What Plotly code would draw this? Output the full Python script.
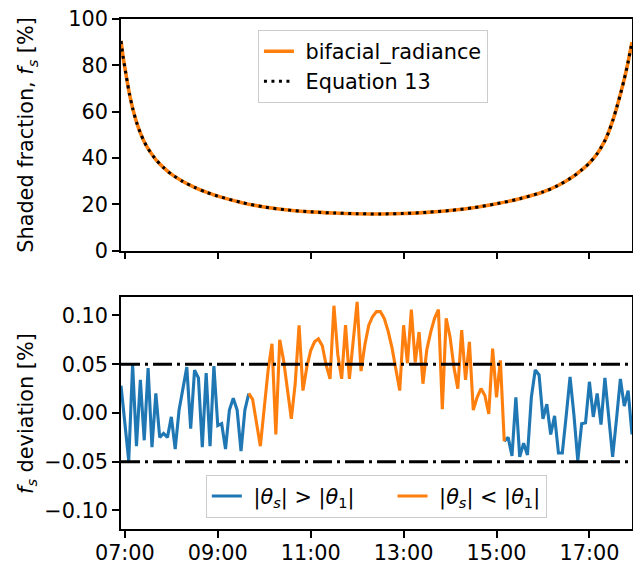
import pandas as pd
import plotly.graph_objects as go

DAY = "2019-06-21 "

# ---- top panel: shaded fraction (%) ----
FS_TIMES = ["06:55", "06:58", "07:00", "07:03", "07:06", "07:10", "07:15", "07:20",
            "07:25", "07:30", "07:40", "07:50", "08:00", "08:15", "08:30", "08:45",
            "09:00", "09:30", "10:00", "10:30", "11:00", "11:30", "12:00", "12:30",
            "13:00", "13:30", "14:00", "14:30", "15:00", "15:30", "16:00", "16:20",
            "16:40", "16:50", "17:00", "17:10", "17:20", "17:25", "17:30", "17:35",
            "17:40", "17:45", "17:50", "17:55"]
FS_BIFACIAL = [90.5, 83, 79, 73, 67.5, 61.5, 55.5, 50.8,
               47, 44, 39.3, 35.8, 33, 29.8, 27.3, 25.2,
               23.5, 20.8, 18.8, 17.5, 16.7, 16.2, 15.9, 15.8,
               16.0, 16.5, 17.3, 18.5, 20.2, 22.4, 25.3, 28.2,
               32.2, 34.8, 37.8, 41.8, 47.5, 51.3, 56, 61.5,
               67.5, 74, 81.5, 90]
FS_EQ13 = [90.5, 83, 79, 73, 67.5, 61.5, 55.5, 50.8,
           47, 44, 39.3, 35.8, 33, 29.8, 27.3, 25.2,
           23.5, 20.8, 18.8, 17.5, 16.7, 16.2, 15.9, 15.8,
           16.0, 16.5, 17.3, 18.5, 20.2, 22.4, 25.3, 28.2,
           32.2, 34.8, 37.8, 41.8, 47.5, 51.3, 56, 61.5,
           67.5, 74, 81.5, 90]

# ---- bottom panel: deviation, 5-minute samples from 06:55 to 17:55 ----
DEV_START = "06:55"
DEV_STEP = "5min"
DEV_EARLY = [0.028, -0.012, -0.049, 0.050, -0.034, 0.034, -0.028, 0.046, -0.035, 0.020,
             -0.025, -0.021, -0.025, -0.004, -0.037, 0.003, 0.025, 0.047, -0.016, 0.044,
             0.036, -0.035, 0.041, -0.034, 0.048, -0.013, -0.011, -0.037, 0.003, 0.015,
             0.003, -0.039, 0.003, 0.020]
DEV_MID = [0.020, 0.014, -0.010, -0.034, 0.005, 0.044, 0.071, -0.022, 0.075, 0.054,
           0.024, -0.006, 0.030, 0.090, 0.023, 0.047, 0.064, 0.073, 0.076, 0.069,
           0.049, 0.035, 0.110, 0.060, 0.035, 0.090, 0.035, 0.075, 0.114, 0.043,
           0.070, 0.090, 0.099, 0.104, 0.104, 0.097, 0.084, 0.067, 0.046, 0.023,
           0.090, 0.051, 0.106, 0.052, 0.083, 0.030, 0.065, 0.083, 0.097, 0.106,
           0.004, 0.097, 0.078, 0.047, 0.025, 0.085, 0.034, 0.073, 0.003, 0.016,
           0.025, 0.018, -0.001, 0.066, 0.016, 0.054, -0.029]
DEV_LATE = [-0.029, -0.025, -0.044, 0.016, -0.045, -0.031, -0.043, 0.016, 0.044, 0.039,
            -0.006, 0.009, -0.022, -0.003, -0.041, -0.041, -0.003, 0.037, -0.002, -0.049,
            -0.011, -0.010, 0.032, -0.004, 0.020, -0.012, 0.036, -0.009, -0.045, -0.006,
            0.035, 0.007, 0.023, -0.022]
THRESH = [0.05, -0.05]

X_RANGE = ["06:55", "17:55"]
X_TICKS = ["07:00", "09:00", "11:00", "13:00", "15:00", "17:00"]
Y1_TICKS = [0, 20, 40, 60, 80, 100]
Y2_TICKS = [-0.10, -0.05, 0.0, 0.05, 0.10]

BLUE = "#1f77b4"
ORANGE = "#ff7f0e"
FONT = "DejaVu Sans"
FS = 20.8
SP = "&nbsp;"

def ts(s):
    return pd.Timestamp(DAY + s)

fs_x = [ts(t) for t in FS_TIMES]
n_dev = len(DEV_EARLY) + len(DEV_MID) + len(DEV_LATE) - 2
dev_t = list(pd.date_range(ts(DEV_START), periods=n_dev, freq=DEV_STEP))
i1 = len(DEV_EARLY) - 1
i2 = i1 + len(DEV_MID) - 1
blue_x = dev_t[:i1 + 1] + [None] + dev_t[i2:]
blue_y = DEV_EARLY + [None] + DEV_LATE
orange_x = dev_t[i1:i2 + 1]

fig = go.Figure()
fig.add_trace(go.Scatter(x=fs_x, y=FS_BIFACIAL, mode="lines", name=SP + "bifacial_radiance",
                         line=dict(color=ORANGE, width=3.6, shape="spline", smoothing=0.8),
                         legend="legend", legendgroup="a", xaxis="x", yaxis="y"))
fig.add_trace(go.Scatter(x=fs_x, y=FS_EQ13, mode="lines", name=SP + "Equation 13",
                         line=dict(color="black", width=3.0, dash="3px,4.5px", shape="spline", smoothing=0.8),
                         legend="legend", legendgroup="b", xaxis="x", yaxis="y"))
fig.add_trace(go.Scatter(x=blue_x, y=blue_y, mode="lines",
                         name=SP + "|<i>θ</i><sub><i>s</i></sub>| > |<i>θ</i><sub>1</sub>|" + SP * 5,
                         line=dict(color=BLUE, width=3.1), connectgaps=False,
                         legend="legend2", xaxis="x2", yaxis="y2"))
fig.add_trace(go.Scatter(x=orange_x, y=DEV_MID, mode="lines",
                         name=SP + "|<i>θ</i><sub><i>s</i></sub>| < |<i>θ</i><sub>1</sub>|",
                         line=dict(color=ORANGE, width=3.1),
                         legend="legend2", xaxis="x2", yaxis="y2"))

for v in THRESH:
    fig.add_shape(type="line", xref="x2 domain", x0=0, x1=1, yref="y2", y0=v, y1=v,
                  line=dict(color="black", width=2.9, dash="19px,5px,3px,5px"), layer="above")

axis_common = dict(showline=True, linecolor="black", linewidth=1.7, mirror=True,
                   ticks="outside", ticklen=7, tickwidth=1.7, tickcolor="black",
                   showgrid=False, zeroline=False, automargin=False,
                   tickfont=dict(family=FONT, size=FS, color="black"))
xr = [ts(X_RANGE[0]), ts(X_RANGE[1])]
xt = [ts(t) for t in X_TICKS]

fig.update_layout(
    width=633, height=564, autosize=False,
    margin=dict(l=121, r=1, t=19, b=35),
    plot_bgcolor="white", paper_bgcolor="white",
    font=dict(family=FONT, size=FS, color="black"),
    xaxis=dict(domain=[0, 1], anchor="y", type="date", range=xr, tickvals=xt,
               showticklabels=False, **axis_common),
    yaxis=dict(domain=[0.546, 1], anchor="x", range=[0, 100], tickvals=Y1_TICKS, **axis_common),
    xaxis2=dict(domain=[0, 1], anchor="y2", type="date", range=xr, tickvals=xt,
                tickformat="%H:%M", ticklabelstandoff=-3, **axis_common),
    yaxis2=dict(domain=[0, 0.455], anchor="x2", range=[-0.119, 0.119], tickvals=Y2_TICKS,
                tickformat=".2f", **axis_common),
    legend=dict(x=0.268, y=0.978, xanchor="left", yanchor="top",
                bgcolor="rgba(255,255,255,0.8)", bordercolor="#cccccc", borderwidth=1,
                font=dict(family=FONT, size=FS), tracegroupgap=3, traceorder="normal"),
    legend2=dict(x=0.166, y=0.0216, xanchor="left", yanchor="bottom", orientation="h",
                 bgcolor="rgba(255,255,255,0.8)", bordercolor="#cccccc", borderwidth=1,
                 font=dict(family=FONT, size=FS)),
    showlegend=True,
)

fig.add_annotation(text="Shaded fraction, <i>f</i><sub><i>s</i></sub> [%]", textangle=-90,
                   xref="paper", yref="paper", x=-0.184, y=0.773, xanchor="center", yanchor="middle",
                   showarrow=False, font=dict(family=FONT, size=FS, color="black"))
fig.add_annotation(text="<i>f</i><sub><i>s</i></sub> deviation [%]", textangle=-90,
                   xref="paper", yref="paper", x=-0.184, y=0.2275, xanchor="center", yanchor="middle",
                   showarrow=False, font=dict(family=FONT, size=FS, color="black"))

fig.write_html("out.html", config={"displayModeBar": False},
               post_script="document.body.style.margin='0';document.body.style.overflow='hidden';")
